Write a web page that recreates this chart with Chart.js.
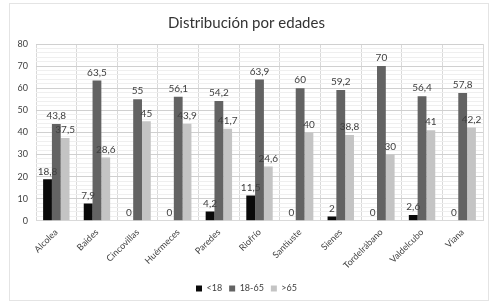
<!DOCTYPE html>
<html><head><meta charset="utf-8">
<script src="https://cdn.jsdelivr.net/npm/chart.js@4"></script>
<style>html,body{margin:0;padding:0;background:#fff}#wrap{width:491px;height:304px;position:relative}</style>
</head><body><div id="wrap"><canvas id="c"></canvas></div>
<script>
const categories = ["Alcolea","Baides","Cincovillas","Huérmeces","Paredes","Riofrío","Santiuste","Sienes","Tordelrábano","Valdelcubo","Viana"];
const under18 = [18.8, 7.9, 0, 0, 4.2, 11.5, 0, 2, 0, 2.6, 0];
const adults = [43.8, 63.5, 55, 56.1, 54.2, 63.9, 60, 59.2, 70, 56.4, 57.8];
const over65 = [37.5, 28.6, 45, 43.9, 41.7, 24.6, 40, 38.8, 30, 41, 42.2];
const seriesNames = ["<18", "18-65", ">65"];
const yTicks = [0,10,20,30,40,50,60,70,80];

const FONT = "Lato, 'Open Sans', sans-serif";
const TXT = "#404040";

const labelPlugin = {
  id: 'valueLabels',
  afterDatasetsDraw(chart) {
    const ctx = chart.ctx;
    ctx.save();
    ctx.font = "10px " + FONT;
    ctx.fillStyle = TXT;
    ctx.textAlign = "center";
    ctx.textBaseline = "bottom";
    chart.data.datasets.forEach((ds, i) => {
      const meta = chart.getDatasetMeta(i);
      meta.data.forEach((el, j) => {
        const v = ds.data[j];
        ctx.fillText(String(v).replace('.', ','), el.x, el.y - 3);
      });
    });
    ctx.restore();
  }
};

const framePlugin = {
  id: 'frame',
  beforeDraw(chart) {
    const ctx = chart.ctx;
    ctx.save();
    ctx.fillStyle = "#fff";
    ctx.fillRect(0,0,chart.width,chart.height);
    ctx.strokeStyle = "#e4e4e4";
    ctx.lineWidth = 1;
    ctx.strokeRect(9.5, 3.5, chart.width - 12, chart.height - 7);
    ctx.restore();
  }
};

new Chart(document.getElementById('c'), {
  type: 'bar',
  data: {
    labels: categories,
    datasets: [
      { label: seriesNames[0], data: under18, backgroundColor: "#0a0a0a" },
      { label: seriesNames[1], data: adults, backgroundColor: "#636363" },
      { label: seriesNames[2], data: over65, backgroundColor: "#c4c4c4" }
    ]
  },
  options: {
    responsive: true,
    maintainAspectRatio: false,
    animation: false,
    devicePixelRatio: 1,
    layout: { padding: { left: 10, right: 8, top: 4, bottom: 1 } },
    datasets: { bar: { categoryPercentage: 0.65, barPercentage: 1.0 } },
    plugins: {
      title: { display: true, text: "Distribución por edades", color: "#333", font: { family: FONT, size: 15, weight: 'normal' }, padding: { top: 10, bottom: 12 } },
      legend: { position: 'bottom', labels: { boxWidth: 6, boxHeight: 6, color: TXT, font: { family: FONT, size: 9 }, padding: 7 } },
      tooltip: { enabled: false }
    },
    scales: {
      x: {
        grid: { color: "#d9d9d9", offset: true, drawTicks: false },
        border: { color: "#d9d9d9" },
        ticks: { color: TXT, font: { family: FONT, size: 9 }, minRotation: 45, maxRotation: 45, padding: 6 }
      },
      y: {
        min: 0, max: 80,
        afterBuildTicks(scale) {
          const t = [];
          for (let v = 0; v <= 80; v += 2) t.push({ value: v });
          scale.ticks = t;
        },
        afterFit(scale) { scale.width = 26; },
        grid: {
          color: (c) => (c.tick && c.tick.value % 10 === 0) ? "#d0d0d0" : "#efefef",
          drawTicks: false
        },
        border: { display: false },
        ticks: {
          color: TXT, font: { family: FONT, size: 9 }, padding: 8, autoSkip: false,
          callback: (v) => yTicks.includes(v) ? String(v) : ""
        }
      }
    }
  },
  plugins: [framePlugin, labelPlugin]
});
</script></body></html>
